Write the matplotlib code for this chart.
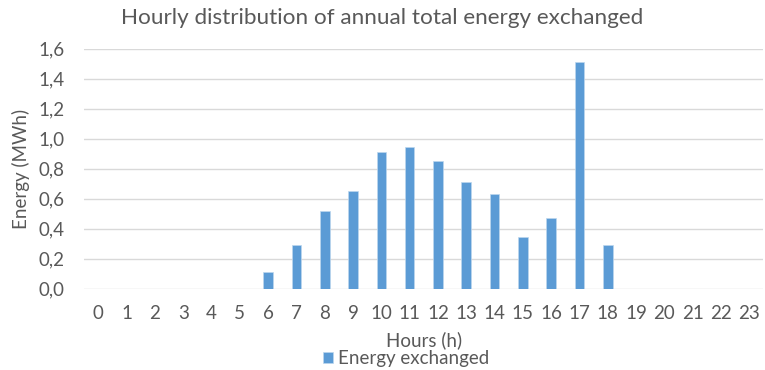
import matplotlib.pyplot as plt
from matplotlib.ticker import FuncFormatter

hours = list(range(24))
energy = [0, 0, 0, 0, 0, 0, 0.11, 0.29, 0.52, 0.65, 0.91, 0.945, 0.85,
          0.71, 0.63, 0.345, 0.47, 1.51, 0.29, 0, 0, 0, 0, 0]

plt.rcParams['font.family'] = ['Lato', 'DejaVu Sans']
grey = '#595959'

fig = plt.figure(figsize=(7.65, 3.7), dpi=100)
ax = fig.add_axes([0.11, 0.22, 0.888, 0.648])

ax.bar(hours, energy, width=0.34, color='#5b9bd5', edgecolor='#bdd7ee', linewidth=0.5,
       label='Energy exchanged', zorder=3)

ax.set_xlim(-0.5, 23.5)
ax.set_ylim(0, 1.6)
ax.set_yticks([i * 0.2 for i in range(9)])
ax.yaxis.set_major_formatter(FuncFormatter(lambda v, p: f'{v:.1f}'.replace('.', ',')))
ax.set_xticks(hours)
ax.grid(axis='y', color='#d9d9d9', linewidth=1, zorder=0)
for s in ax.spines.values():
    s.set_visible(False)
ax.tick_params(length=0, labelsize=13.5, colors=grey)
ax.tick_params(axis='x', pad=12)
ax.tick_params(axis='y', pad=14)

# title centred on the whole figure rather than the plot area
fig.text(0.5, 0.952, 'Hourly distribution of annual total energy exchanged',
         fontsize=16.2, color=grey, ha='center', va='center')
ax.set_xlabel('Hours (h)', fontsize=13.5, color=grey, va='center')
ax.xaxis.set_label_coords(0.5, -0.214)
ax.set_ylabel('Energy (MWh)', fontsize=13.5, color=grey, labelpad=6)

ax.legend(loc='center', bbox_to_anchor=(0.474, -0.292), frameon=False, fontsize=13.5,
          handlelength=0.55, handleheight=0.55, handletextpad=0.3, labelcolor=grey,
          borderaxespad=0, borderpad=0)

fig.savefig('out.png', dpi=100)
